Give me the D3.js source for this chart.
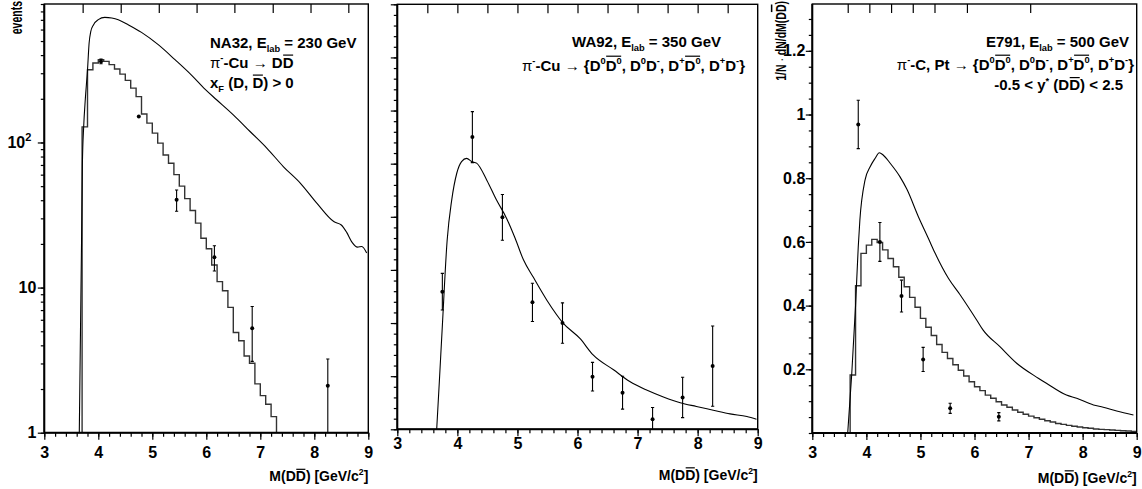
<!DOCTYPE html>
<html>
<head>
<meta charset="utf-8">
<script src="https://cdn.jsdelivr.net/npm/d3@7"></script>
<style>
  body { margin: 0; background: #fff; }
  svg { display: block; }
  text { font-family: "Liberation Sans", Arial, Helvetica, sans-serif; }
</style>
</head>
<body>
<svg id="chart" width="1142" height="489"></svg>
<script>
// ---------- data ----------
const massTicks = [3, 4, 5, 6, 7, 8, 9];

// NA32, 230 GeV (log y)
const na32CurveX = [3.648, 3.67, 3.69, 3.705, 3.73, 3.76, 3.80, 3.83, 3.86, 3.91, 4.00, 4.12, 4.25, 4.37, 4.56, 4.80, 5.11, 5.42, 5.73, 5.98, 6.19, 6.50, 6.81, 7.12, 7.43, 7.74, 8.05, 8.36, 8.50, 8.60, 8.70, 8.80, 8.88, 8.97];
const na32CurveY = [1, 5, 21, 70, 130, 200, 316, 485, 580, 646, 702, 728, 721, 702, 646, 574, 472, 372, 290, 232, 197, 155, 119, 91.5, 68, 52.5, 38, 28.5, 27, 24, 20.5, 19, 19.2, 17.3];
const na32BinEdges = [3.7, 3.8, 3.9, 4.0, 4.1, 4.2, 4.3, 4.4, 4.5, 4.6, 4.7, 4.8, 4.9, 5.0, 5.1, 5.2, 5.3, 5.4, 5.5, 5.6, 5.7, 5.8, 5.9, 6.0, 6.1, 6.2, 6.3, 6.4, 6.5, 6.6, 6.7, 6.8, 6.9, 7.0, 7.1, 7.2, 7.3];
const na32BinValues = [128, 317, 353, 372, 362, 344, 321, 296, 268, 237, 207, 157, 136, 116, 99, 82, 72, 60, 50, 41, 34, 27.8, 21.9, 18.5, 14.3, 11, 9.5, 7.3, 4.9, 4.3, 3.38, 3.01, 2.17, 1.80, 1.57, 1.29];
const na32PointX = [4.05, 4.75, 5.45, 6.15, 6.85, 8.25];
const na32PointY = [362, 151, 40.3, 16.2, 5.25, 2.11];
const na32PointErr = [13, 0, 6.7, 3.2, 2.15, 1.11];
const na32TopTicks = [3.71, 4.415, 5.12, 5.82, 6.52, 7.23, 7.93, 8.63];

// WA92, 350 GeV (linear y, unlabelled)
const wa92CurveX = [3.656, 3.70, 3.75, 3.83, 3.905, 3.99, 4.07, 4.155, 4.24, 4.32, 4.49, 4.65, 4.82, 4.96, 5.10, 5.26, 5.49, 5.76, 6.04, 6.26, 6.60, 6.87, 7.15, 7.43, 7.71, 7.98, 8.26, 8.54, 8.82, 8.98];
const wa92CurveY = [0, 0.9, 1.95, 3.56, 4.31, 4.82, 5.04, 5.10, 5.04, 5.01, 4.69, 4.32, 3.97, 3.6, 3.19, 2.87, 2.43, 2.0, 1.71, 1.40, 1.12, 0.90, 0.74, 0.61, 0.50, 0.43, 0.36, 0.29, 0.24, 0.19];
const wa92PointX = [3.75, 4.25, 4.75, 5.25, 5.75, 6.25, 6.75, 7.25, 7.75, 8.25];
const wa92PointY = [2.59, 5.50, 3.99, 2.39, 2.0, 0.99, 0.69, 0.19, 0.60, 1.19];
const wa92PointErr = [0.345, 0.48, 0.43, 0.36, 0.38, 0.27, 0.31, 0.22, 0.38, 0.755];
const wa92TopTicks = [3.5, 4, 4.5, 5, 5.5, 6, 6.5, 7, 7.5, 8, 8.5];

// E791, 500 GeV (linear y)
const e791CurveX = [3.655, 3.73, 3.80, 3.85, 3.88, 3.975, 4.07, 4.16, 4.24, 4.31, 4.44, 4.62, 4.75, 4.96, 5.15, 5.27, 5.52, 5.73, 6.04, 6.16, 6.47, 6.78, 7.18, 7.33, 7.70, 7.89, 8.20, 8.38, 8.63, 8.94];
const e791CurveY = [0, 0.187, 0.40, 0.585, 0.669, 0.794, 0.836, 0.862, 0.880, 0.873, 0.847, 0.805, 0.765, 0.68, 0.61, 0.565, 0.485, 0.435, 0.355, 0.323, 0.271, 0.219, 0.172, 0.156, 0.119, 0.109, 0.088, 0.081, 0.069, 0.0565];
const e791BinEdges = [3.7, 3.8, 3.9, 4.0, 4.1, 4.2, 4.3, 4.4, 4.5, 4.6, 4.7, 4.8, 4.9, 5.0, 5.1, 5.2, 5.3, 5.4, 5.5, 5.6, 5.7, 5.8, 5.9, 6.0, 6.1, 6.2, 6.3, 6.4, 6.5, 6.6, 6.7, 6.8, 6.9, 7.0, 7.1, 7.2, 7.3, 7.4, 7.5, 7.6, 7.7, 7.8, 7.9, 8.0, 8.1, 8.2, 8.3, 8.4, 8.5, 8.6, 8.7, 8.8, 8.9, 9.0];
const e791BinValues = [0.182, 0.4625, 0.564, 0.590, 0.608, 0.598, 0.575, 0.548, 0.522, 0.489, 0.459, 0.426, 0.395, 0.360, 0.332, 0.306, 0.278, 0.253, 0.234, 0.2145, 0.197, 0.179, 0.161, 0.145, 0.133, 0.119, 0.109, 0.098, 0.088, 0.081, 0.072, 0.065, 0.059, 0.053, 0.048, 0.043, 0.0387, 0.0345, 0.030, 0.027, 0.024, 0.021, 0.019, 0.0167, 0.0147, 0.0126, 0.0115, 0.0105, 0.0094, 0.0084, 0.0073, 0.0063, 0.0052];
const e791PointX = [3.85, 4.25, 4.65, 5.05, 5.55, 6.45];
const e791PointY = [0.969, 0.60, 0.43, 0.231, 0.0775, 0.051];
const e791PointErr = [0.076, 0.061, 0.05, 0.038, 0.016, 0.013];
const e791TopTicks = [3.655, 4.055, 4.457, 4.858, 5.26, 5.86, 7.03];
const e791YLabels = [0.2, 0.4, 0.6, 0.8, 1, 1.2];

// ---------- drawing ----------
const svg = d3.select('#chart');
svg.append('rect').attr('width', 1142).attr('height', 489).attr('fill', '#fff');

const FS = 15;       // annotation text
const FS_AX = 14;    // axis titles
const FS_TICK = 16;  // tick labels

// rich text: segments with sub / sup / thin (symbol) / bar (overline group id)
function rich(parent, x, y, anchor, segs, size) {
  const t = parent.append('text').attr('x', x).attr('y', y)
    .attr('text-anchor', anchor).attr('font-size', size).attr('font-weight', 'bold').attr('fill', '#000');
  let shift = 0;
  segs.forEach(s => {
    const want = s.sup ? -0.42 * size : s.sub ? 0.28 * size : 0;
    const sp = t.append('tspan').attr('dy', want - shift).text(s.t);
    shift = want;
    if (s.sup || s.sub) sp.attr('font-size', size * 0.62);
    if (s.thin) sp.attr('font-weight', 'normal');
    s.node = sp.node();
  });
  // overlines
  const box = svg.node().getBoundingClientRect();
  const groups = {};
  segs.forEach(s => {
    if (!s.bar) return;
    const r = s.node.getBoundingClientRect();
    const gr = groups[s.bar] || (groups[s.bar] = { x0: Infinity, x1: -Infinity, sup: false });
    gr.x0 = Math.min(gr.x0, r.left - box.left + 0.5);
    gr.x1 = Math.max(gr.x1, r.right - box.left - 0.5);
    if (s.sup) gr.sup = true;
  });
  Object.values(groups).forEach(gr => {
    const yy = gr.sup ? y - 0.42 * size - 0.72 * 0.62 * size - 1.3 : y - 0.72 * size - 1.6;
    parent.append('line').attr('x1', gr.x0).attr('x2', gr.x1).attr('y1', yy).attr('y2', yy)
      .attr('stroke', '#000').attr('stroke-width', 1.2);
  });
  return t;
}

function massTitle(parent, xr, yb) {
  rich(parent, xr, yb, 'end', [
    { t: 'M(D' }, { t: 'D', bar: 'a' }, { t: ') [GeV/c' }, { t: '2', sup: true }, { t: ']' }
  ], FS_AX);
}

function drawPanel(p) {
  const x = d3.scaleLinear().domain([3, 9]).range([p.left, p.right]);
  const y = (p.log ? d3.scaleLog() : d3.scaleLinear()).domain(p.yDomain).range([p.bottom, p.top]);
  const g = svg.append('g');

  const clipId = 'clip-' + p.id;
  svg.append('clipPath').attr('id', clipId).append('rect')
    .attr('x', p.left).attr('y', p.top).attr('width', p.right - p.left).attr('height', p.bottom - p.top);
  const plot = g.append('g').attr('clip-path', `url(#${clipId})`);

  // histogram
  if (p.binEdges) {
    const pts = [[p.binEdges[0], p.yFloor]];
    p.binValues.forEach((v, i) => { pts.push([p.binEdges[i], v]); pts.push([p.binEdges[i + 1], v]); });
    if (p.histDrop) pts.push([p.binEdges[p.binEdges.length - 1], p.yFloor]);
    plot.append('path')
      .attr('d', d3.line().x(d => x(d[0])).y(d => y(Math.max(d[1], p.yFloor)))(pts))
      .attr('fill', 'none').attr('stroke', '#333').attr('stroke-width', 1.4);
  }

  // theory curve
  const curve = p.curveX.map((cx, i) => [cx, p.curveY[i]]);
  plot.append('path')
    .attr('d', d3.line().x(d => x(d[0])).y(d => y(Math.max(d[1], p.yFloor))).curve(d3.curveMonotoneX)(curve))
    .attr('fill', 'none').attr('stroke', '#000').attr('stroke-width', 1.1);

  // data points with error bars
  p.pointX.forEach((px, i) => {
    const v = p.pointY[i], e = p.pointErr[i];
    const cx = x(px);
    if (e > 0) {
      const lo = y(Math.max(v - e, p.yFloor)), hi = y(v + e);
      plot.append('line').attr('x1', cx).attr('x2', cx).attr('y1', lo).attr('y2', hi)
        .attr('stroke', '#000').attr('stroke-width', 1.1);
      [lo, hi].forEach(yy => {
        if (yy >= p.bottom - 0.5) return;
        plot.append('line').attr('x1', cx - 1.6).attr('x2', cx + 1.6).attr('y1', yy).attr('y2', yy)
          .attr('stroke', '#000').attr('stroke-width', 1.1);
      });
    }
    plot.append('circle').attr('cx', cx).attr('cy', y(v)).attr('r', 2).attr('fill', '#000');
  });

  // axes
  const style = sel => {
    sel.select('.domain').remove();
    sel.selectAll('.tick line').attr('stroke', '#000').attr('stroke-width', 1.2);
    sel.selectAll('text').attr('font-size', FS_TICK).attr('font-weight', 'bold')
      .attr('font-family', '"Liberation Sans", Arial, sans-serif').attr('fill', '#000');
  };
  g.append('g').attr('transform', `translate(0,${p.bottom})`)
    .call(d3.axisBottom(x).tickValues(x.ticks(30)).tickSize(4).tickFormat('')).call(style);
  g.append('g').attr('transform', `translate(0,${p.bottom})`)
    .call(d3.axisBottom(x).tickValues(massTicks).tickSize(7).tickPadding(p.xPad).tickFormat(d3.format('d'))).call(style);
  g.append('g').attr('transform', `translate(0,${p.top})`)
    .call(d3.axisBottom(x).tickValues(p.topTicks).tickSize(9).tickFormat('')).call(style);

  const minorY = p.log ? y.ticks() : y.ticks(p.minorCount);
  g.append('g').attr('transform', `translate(${p.left},0)`)
    .call(d3.axisLeft(y).tickValues(minorY).tickSize(3.5).tickFormat('')).call(style);
  const majorAxis = d3.axisLeft(y).tickValues(p.yMajor).tickSize(6.5).tickPadding(p.yPad || 1.5)
    .tickFormat(p.yFormat || '');
  const ya = g.append('g').attr('transform', `translate(${p.left},0)`).call(majorAxis).call(style);
  if (p.log) {
    ya.selectAll('.tick text').each(function (d) {
      if (d === 100) {
        const t = d3.select(this).text('10');
        t.attr('dx', -5);
        t.append('tspan').attr('dy', -7).attr('font-size', 11).text('2');
      }
    });
  }

  // frame
  g.append('rect').attr('x', p.left).attr('y', p.top)
    .attr('width', p.right - p.left).attr('height', p.bottom - p.top)
    .attr('fill', 'none').attr('stroke', '#000').attr('stroke-width', 1.4);
  g.append('line').attr('x1', p.left).attr('x2', p.left).attr('y1', p.top).attr('y2', p.bottom)
    .attr('stroke', '#000').attr('stroke-width', 2);
  g.append('line').attr('x1', p.left).attr('x2', p.right).attr('y1', p.bottom).attr('y2', p.bottom)
    .attr('stroke', '#000').attr('stroke-width', 2);

  massTitle(g, p.right, p.xTitleY);
  return g;
}

const g1 = drawPanel({
  id: 'na32', left: 44.3, right: 368.3, top: 4, bottom: 432.7, log: true,
  yDomain: [1, 900], yFloor: 1, yMajor: [1, 10, 100], yFormat: d => String(d),
  curveX: na32CurveX, curveY: na32CurveY,
  binEdges: na32BinEdges, binValues: na32BinValues, histDrop: true,
  pointX: na32PointX, pointY: na32PointY, pointErr: na32PointErr,
  topTicks: na32TopTicks, xPad: 7, xTitleY: 481
});
const g2 = drawPanel({
  id: 'wa92', left: 397.3, right: 757.7, top: 4.3, bottom: 429.3, log: false,
  yDomain: [0, 8], yFloor: 0, yMajor: d3.range(0, 9), minorCount: 40,
  curveX: wa92CurveX, curveY: wa92CurveY,
  pointX: wa92PointX, pointY: wa92PointY, pointErr: wa92PointErr,
  topTicks: wa92TopTicks, xPad: 1, xTitleY: 479.5
});
const g3 = drawPanel({
  id: 'e791', left: 812.3, right: 1136.7, top: 4, bottom: 433, log: false,
  yDomain: [0, 1.347], yFloor: 0, yMajor: e791YLabels, minorCount: 30, yFormat: d => String(d), yPad: 0.5,
  curveX: e791CurveX, curveY: e791CurveY,
  binEdges: e791BinEdges, binValues: e791BinValues, histDrop: false,
  pointX: e791PointX, pointY: e791PointY, pointErr: e791PointErr,
  topTicks: e791TopTicks, xPad: 7, xTitleY: 482.5
});

// y titles (rotated; glyphs appear wide and short in the original)
svg.append('text').attr('transform', 'translate(22,1) scale(1.6,1) rotate(-90)').attr('text-anchor', 'end')
  .attr('font-size', 10.5).attr('font-weight', 'bold').text('events');
const yt = svg.append('g').attr('transform', 'translate(786,1) scale(1.45,1) rotate(-90)');
(function () {
  const t = yt.append('text').attr('text-anchor', 'end').attr('font-size', 10.5).attr('font-weight', 'bold');
  t.append('tspan').text('1/N ');
  t.append('tspan').attr('font-weight', 'normal').text('·');
  t.append('tspan').text(' dN/dM(D');
  t.append('tspan').attr('text-decoration', 'overline').text('D');
  t.append('tspan').text(')');
})();

// panel annotations
rich(g1, 210, 48, 'start', [{ t: 'NA32, E' }, { t: 'lab', sub: true }, { t: ' = 230 GeV' }], FS);
rich(g1, 210, 67.5, 'start', [{ t: 'π', thin: true }, { t: '-', sup: true }, { t: '-Cu ' }, { t: '→', thin: true }, { t: ' D' }, { t: 'D', bar: 'a' }], FS);
rich(g1, 210, 87.5, 'start', [{ t: 'x' }, { t: 'F', sub: true }, { t: ' (D, ' }, { t: 'D', bar: 'a' }, { t: ') > 0' }], FS);

rich(g2, 721, 47, 'end', [{ t: 'WA92, E' }, { t: 'lab', sub: true }, { t: ' = 350 GeV' }], FS);
const pairs = [
  { t: '{D' }, { t: '0', sup: true }, { t: 'D', bar: 'b1' }, { t: '0', sup: true, bar: 'b1' },
  { t: ', D' }, { t: '0', sup: true }, { t: 'D' }, { t: '-', sup: true },
  { t: ', D' }, { t: '+', sup: true }, { t: 'D', bar: 'b2' }, { t: '0', sup: true, bar: 'b2' },
  { t: ', D' }, { t: '+', sup: true }, { t: 'D' }, { t: '-', sup: true }, { t: '}' }
];
rich(g2, 745, 70.5, 'end', [{ t: 'π', thin: true }, { t: '-', sup: true }, { t: '-Cu ' }, { t: '→', thin: true }, { t: ' ' }]
  .concat(pairs.map(s => Object.assign({}, s))), FS);

rich(g3, 1129, 46.5, 'end', [{ t: 'E791, E' }, { t: 'lab', sub: true }, { t: ' = 500 GeV' }], FS);
rich(g3, 1134, 69.5, 'end', [{ t: 'π', thin: true }, { t: '-', sup: true }, { t: '-C, Pt ' }, { t: '→', thin: true }, { t: ' ' }]
  .concat(pairs.map(s => Object.assign({}, s))), FS);
rich(g3, 1123, 90, 'end', [{ t: '-0.5 < y' }, { t: '*', sup: true }, { t: ' (D' }, { t: 'D', bar: 'a' }, { t: ') < 2.5' }], FS);
</script>
</body>
</html>
